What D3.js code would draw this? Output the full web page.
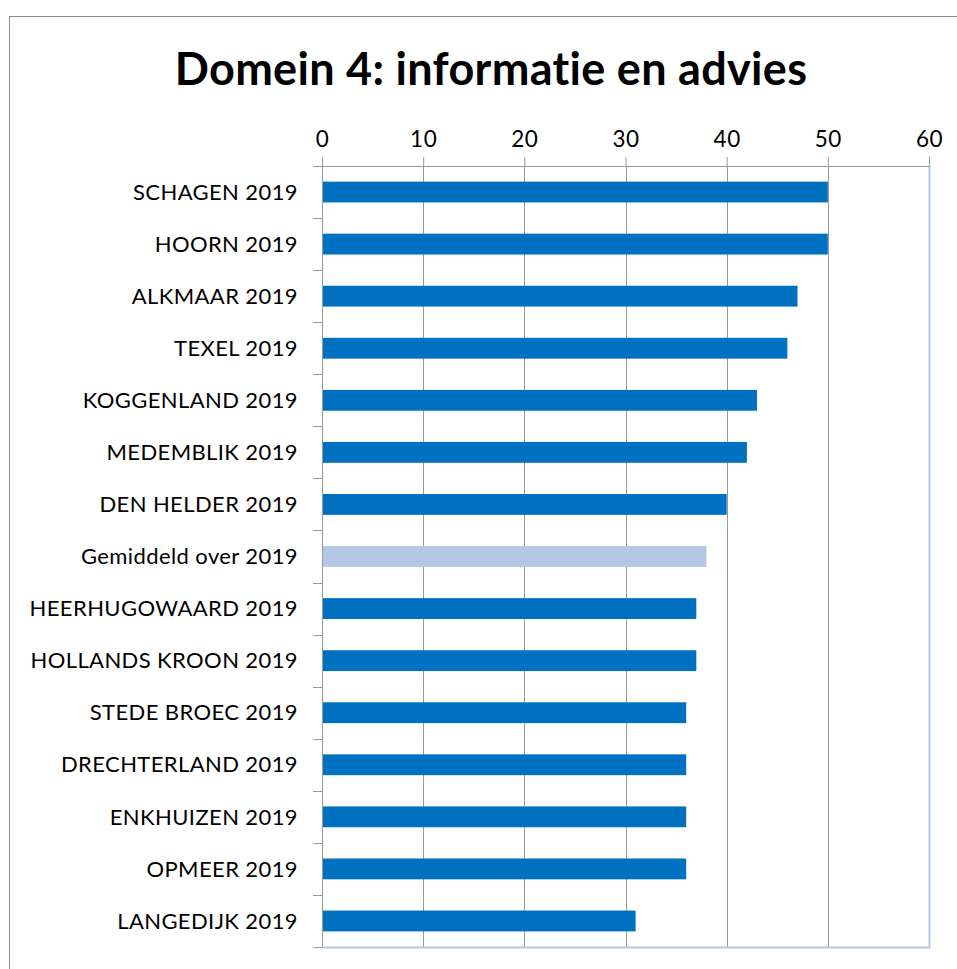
<!DOCTYPE html>
<html>
<head>
<meta charset="utf-8">
<script src="https://cdn.jsdelivr.net/npm/d3@7"></script>
<style>
  body { margin: 0; background: #fff; }
  text { font-family: Lato, "Open Sans", sans-serif; fill: #000; }
</style>
</head>
<body>
<div id="chart"></div>
<script>
// chart data
var categories = ["SCHAGEN 2019", "HOORN 2019", "ALKMAAR 2019", "TEXEL 2019", "KOGGENLAND 2019",
  "MEDEMBLIK 2019", "DEN HELDER 2019", "Gemiddeld over 2019", "HEERHUGOWAARD 2019",
  "HOLLANDS KROON 2019", "STEDE BROEC 2019", "DRECHTERLAND 2019", "ENKHUIZEN 2019",
  "OPMEER 2019", "LANGEDIJK 2019"];
var values = [50, 50, 47, 46, 43, 42, 40, 38, 37, 37, 36, 36, 36, 36, 31];
var xTicks = [0, 10, 20, 30, 40, 50, 60];
var averageLabel = "Gemiddeld over 2019";

var W = 957, H = 969;
var margin = {top: 166, right: 28, bottom: 22, left: 322};
var width = W - margin.left - margin.right;
var height = H - margin.top - margin.bottom;

var svg = d3.select("#chart").append("svg")
    .attr("width", W)
    .attr("height", H);

// outer chart frame
svg.append("rect")
    .attr("x", 9.5).attr("y", 16.5)
    .attr("width", W + 20).attr("height", H + 20)
    .style("fill", "none")
    .style("stroke", "#8c8c8c")
    .style("stroke-width", 1);

svg.append("text")
    .attr("x", 491).attr("y", 85)
    .style("text-anchor", "middle")
    .style("font-size", "45px")
    .style("font-weight", "bold")
    .style("letter-spacing", "0.3px")
    .text("Domein 4: informatie en advies");

var g = svg.append("g")
    .attr("transform", "translate(" + margin.left + "," + margin.top + ")");

var x = d3.scaleLinear().domain([0, 60]).range([0, width]);
var y = d3.scaleBand().domain(categories).range([0, height]).paddingInner(0.6).paddingOuter(0.3);

// vertical gridlines
g.selectAll("line.grid")
    .data(xTicks.slice(1, -1))
    .enter().append("line")
    .attr("class", "grid")
    .attr("x1", d => Math.round(x(d)) + 0.5)
    .attr("x2", d => Math.round(x(d)) + 0.5)
    .attr("y1", 0).attr("y2", height)
    .style("stroke", "#999")
    .style("stroke-width", 1);

// plot border right + bottom (light blue)
g.append("path")
    .attr("d", "M" + (width + 0.5) + ",0V" + (height + 0.5) + "H0")
    .style("fill", "none")
    .style("stroke", "#b4c7e7")
    .style("stroke-width", 2);

// bars
g.selectAll("rect.bar")
    .data(categories)
    .enter().append("rect")
    .attr("class", "bar")
    .attr("x", 0)
    .attr("y", d => y(d))
    .attr("width", (d, i) => x(values[i]))
    .attr("height", y.bandwidth())
    .style("fill", d => d === averageLabel ? "#b4c7e7" : "#0070c0");

// top axis
var xAxis = g.append("g")
    .call(d3.axisTop(x).tickValues(xTicks).tickSize(9).tickPadding(10));
xAxis.select(".domain").style("stroke", "#999");
xAxis.selectAll(".tick line").style("stroke", "#999");
xAxis.selectAll(".tick text")
    .style("font-size", "22.5px")
    .style("font-family", "Lato, sans-serif")
    .style("letter-spacing", "0.5px")
    .style("fill", "#000");

// left axis with ticks on band boundaries
var bounds = d3.range(categories.length + 1).map(i => i * y.step());
var yAxis = g.append("g");
yAxis.append("line")
    .attr("x1", 0.5).attr("x2", 0.5)
    .attr("y1", 0).attr("y2", height)
    .style("stroke", "#999");
yAxis.selectAll("line.tk")
    .data(bounds)
    .enter().append("line")
    .attr("class", "tk")
    .attr("x1", -9).attr("x2", 0)
    .attr("y1", d => Math.round(d) + 0.5)
    .attr("y2", d => Math.round(d) + 0.5)
    .style("stroke", "#999");
yAxis.selectAll("text.lbl")
    .data(categories)
    .enter().append("text")
    .attr("class", "lbl")
    .attr("x", -24)
    .attr("y", d => y(d) + y.bandwidth() / 2)
    .attr("dy", "0.35em")
    .style("text-anchor", "end")
    .style("font-size", "22px")
    .style("letter-spacing", "0.4px")
    .text(d => d);
</script>
</body>
</html>
